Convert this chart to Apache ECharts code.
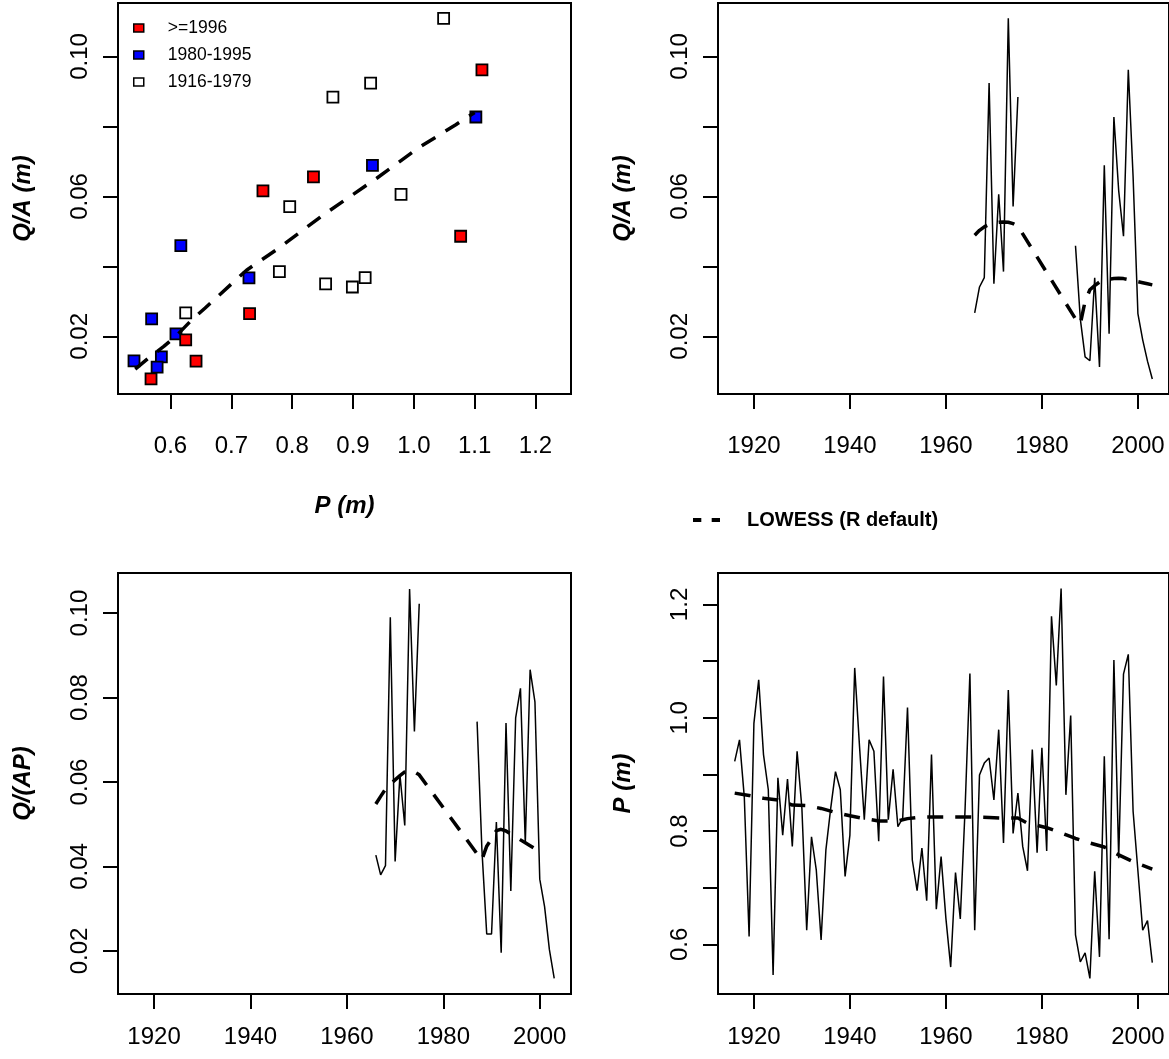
<!DOCTYPE html>
<html><head><meta charset="utf-8">
<script src="https://cdn.jsdelivr.net/npm/echarts@6/dist/echarts.min.js"></script>
<style>html,body{margin:0;padding:0;background:#fff}#c{width:1169px;height:1059px}</style>
</head><body><div id="c"></div>
<script>
// ---------- DATA ----------
const pYears = [1916,1917,1918,1919,1920,1921,1922,1923,1924,1925,
1926,1927,1928,1929,1930,1931,1932,1933,1934,1935,
1936,1937,1938,1939,1940,1941,1942,1943,1944,1945,
1946,1947,1948,1949,1950,1951,1952,1953,1954,1955,
1956,1957,1958,1959,1960,1961,1962,1963,1964,1965,
1966,1967,1968,1969,1970,1971,1972,1973,1974,1975,
1976,1977,1978,1979,1980,1981,1982,1983,1984,1985,
1986,1987,1988,1989,1990,1991,1992,1993,1994,1995,
1996,1997,1998,1999,2000,2001,2002,2003];
const pValues = [0.923,0.961,0.860,0.614,0.990,1.067,0.935,0.873,0.546,0.894,
0.793,0.892,0.773,0.941,0.840,0.625,0.790,0.731,0.608,0.767,
0.840,0.905,0.873,0.720,0.793,1.088,0.950,0.820,0.961,0.941,
0.782,1.073,0.820,0.909,0.808,0.823,1.018,0.749,0.695,0.770,
0.677,0.935,0.662,0.755,0.646,0.560,0.727,0.645,0.840,1.078,
0.625,0.899,0.920,0.929,0.855,0.979,0.779,1.049,0.796,0.867,
0.773,0.730,0.944,0.762,0.947,0.765,1.179,1.057,1.228,0.864,
1.004,0.617,0.569,0.585,0.540,0.729,0.578,0.932,0.609,1.102,
0.752,1.077,1.112,0.835,0.730,0.625,0.642,0.568];

const qYears = [1966,1967,1968,1969,1970,1971,1972,1973,1974,1975,
1976,1977,1978,1979,1980,1981,1982,1983,1984,1985,1986,
1987,1988,1989,1990,1991,1992,1993,1994,1995,
1996,1997,1998,1999,2000,2001,2002,2003];
// Q/A (m); null = no runoff record
const qaValues = [0.0267,0.0341,0.0368,0.0924,0.0350,0.0606,0.0385,0.1109,0.0571,0.0884,
null,null,null,null,null,null,null,null,null,null,null,
0.0459,0.0250,0.0141,0.0130,0.0367,0.0112,0.0689,0.0207,0.0827,
0.0616,0.0486,0.0962,0.0656,0.0265,0.0190,0.0129,0.0078];
// Q/(AP)
const qapValues = [0.0427,0.0380,0.0402,0.0990,0.0412,0.0617,0.0497,0.1057,0.0720,0.1022,
null,null,null,null,null,null,null,null,null,null,null,
0.0743,0.0440,0.0240,0.0240,0.0505,0.0196,0.0740,0.0342,0.0752,
0.0822,0.0455,0.0866,0.0790,0.0370,0.0305,0.0203,0.0135];

// LOWESS fits
const lowessPQ_P  = [0.542,0.567,0.589,0.611,0.635,0.657,0.725,0.778,0.852,0.939,1.007,1.069,1.100];
const lowessPQ_QA = [0.0106,0.0142,0.0171,0.0204,0.0247,0.0281,0.0389,0.0452,0.0548,0.0652,0.0738,0.0805,0.0840];

const lowessQA_years  = [1966,1967,1968,1969,1970,1971,1972,1973,1974,1975,1987,1988,1989,1990,1991,1992,1993,1994,1995,1996,1997,1998,1999,2000,2001,2002,2003];
const lowessQA_values = [0.0489,0.0503,0.0513,0.0520,0.0524,0.0526,0.0527,0.0526,0.0522,0.0515,0.0250,0.0235,0.0300,0.0333,0.0345,0.0355,0.0360,0.0363,0.0365,0.0366,0.0365,0.0362,0.0359,0.0356,0.0353,0.0350,0.0347];

const lowessQAP_years  = [1966,1967,1968,1969,1970,1971,1972,1973,1974,1975,1987,1988,1989,1990,1991,1992,1993,1994,1995,1996,1997,1998,1999,2000];
const lowessQAP_values = [0.0548,0.0566,0.0583,0.0595,0.0605,0.0615,0.0624,0.0628,0.0624,0.0617,0.0430,0.0416,0.0448,0.0465,0.0485,0.0488,0.0484,0.0477,0.0470,0.0463,0.0456,0.0449,0.0442,0.0435];

const lowessP_years  = [1916,1919,1922,1925,1928,1931,1934,1937,1940,1943,1946,1950,1952,1955,1960,1965,1969,1972,1975,1977,1981,1984,1987,1990,1993,1996,1999,2003];
const lowessP_values = [0.867,0.863,0.858,0.855,0.846,0.845,0.840,0.833,0.827,0.822,0.818,0.818,0.822,0.825,0.825,0.825,0.824,0.823,0.823,0.814,0.806,0.797,0.787,0.779,0.772,0.758,0.746,0.733];

const groupNames = ['>=1996','1980-1995','1916-1979'];
const xTicksP = [0.6,0.7,0.8,0.9,1.0,1.1,1.2];
const yearTicks = [1920,1940,1960,1980,2000];
const qaTicks = [0.02,0.04,0.06,0.08,0.10];
const qaLabels = [0.02,0.06,0.10];
const qapTicks = [0.02,0.04,0.06,0.08,0.10];
const pTicks = [0.6,0.7,0.8,0.9,1.0,1.1,1.2];
const pLabels = [0.6,0.8,1.0,1.2];

// ---------- BUILD ----------
const FONT = "'Liberation Sans', Arial, Helvetica, sans-serif";
const pByYear = {}; pYears.forEach((y,i)=>pByYear[y]=pValues[i]);
const scatterGroups = [[],[],[]];
qYears.forEach((y,i)=>{
  if (qaValues[i]==null) return;
  const g = y>=1996 ? 0 : (y>=1980 ? 1 : 2);
  scatterGroups[g].push([pByYear[y], qaValues[i]]);
});
const pair = (xs, ys) => xs.map((x,i)=>[x, ys[i]==null ? '-' : ys[i]]);

function xAx(gi, min, max, ticks, fmt, margin, name) {
  return {
    type:'value', gridIndex:gi, min:min, max:max,
    axisLine:{show:false}, splitLine:{show:false},
    axisTick:{show:true, inside:false, length:15, customValues:ticks, lineStyle:{color:'#000', width:2}},
    axisLabel:{show:true, customValues:ticks, formatter:fmt, margin:margin, hideOverlap:false,
      fontFamily:FONT, fontSize:24, color:'#000'},
    name:name||'', nameLocation:'middle', nameGap:100,
    nameTextStyle:{fontFamily:FONT, fontSize:24, fontWeight:'bold', fontStyle:'italic', color:'#000'}
  };
}
function yAx(gi, min, max, ticks, labels, fmt, name) {
  return {
    type:'value', gridIndex:gi, min:min, max:max,
    axisLine:{show:false}, splitLine:{show:false},
    axisTick:{show:true, inside:false, length:15, customValues:ticks, lineStyle:{color:'#000', width:2}},
    axisLabel:{show:true, customValues:labels, formatter:fmt, margin:26, rotate:90, hideOverlap:false,
      fontFamily:FONT, fontSize:24, color:'#000'},
    name:name, nameLocation:'middle', nameGap:83, nameRotate:90,
    nameTextStyle:{fontFamily:FONT, fontSize:24, fontWeight:'bold', fontStyle:'italic', color:'#000'}
  };
}
const f1 = v => Number(v).toFixed(1);
const f2 = v => Number(v).toFixed(2);
const fy = v => String(Math.round(v));

const gridBase = {show:true, borderColor:'#000', borderWidth:2, backgroundColor:'transparent'};
const lowessStyle = {color:'#000', width:3.5, type:[16,12], cap:'butt'};
const solidStyle = {color:'#000', width:1.5};
const LNAME = 'LOWESS (R default)';

const option = {
  animation:false,
  backgroundColor:'#fff',
  grid:[
    Object.assign({left:118, top:3, width:453, height:391}, gridBase),
    Object.assign({left:718, top:3, width:453, height:391}, gridBase),
    Object.assign({left:118, top:573, width:453, height:421}, gridBase),
    Object.assign({left:718, top:573, width:453, height:421}, gridBase)
  ],
  xAxis:[
    xAx(0, 0.5137, 1.2584, xTicksP, f1, 40, 'P (m)'),
    xAx(1, 1912.52, 2006.48, yearTicks, fy, 40),
    xAx(2, 1912.52, 2006.48, yearTicks, fy, 31),
    xAx(3, 1912.52, 2006.48, yearTicks, fy, 31)
  ],
  yAxis:[
    yAx(0, 0.0035, 0.1153, qaTicks, qaLabels, f2, 'Q/A (m)'),
    yAx(1, 0.0035, 0.1153, qaTicks, qaLabels, f2, 'Q/A (m)'),
    yAx(2, 0.0098, 0.1095, qapTicks, qapTicks, f2, 'Q/(AP)'),
    yAx(3, 0.5125, 1.2555, pTicks, pLabels, f1, 'P (m)')
  ],
  legend:[
    {left:133, top:15, orient:'vertical', padding:0, itemGap:1, itemWidth:10, itemHeight:8, icon:'rect',
     selectedMode:false, data:groupNames,
     itemStyle:{borderColor:'#000', borderWidth:1.5},
     textStyle:{fontFamily:FONT, fontSize:17.5, color:'#000', lineHeight:18, padding:[8,0,0,19]}},
    {left:693, top:509, padding:0, itemWidth:27, itemHeight:5, selectedMode:false,
     data:[{name:LNAME, icon:'path://M0,0H8V4H0Z M18,0H26V4H18Z'}],
     itemStyle:{borderWidth:0, color:'#000'},
     textStyle:{fontFamily:FONT, fontSize:20, fontWeight:'bold', color:'#000', lineHeight:22, padding:[0,0,0,22]}}
  ],
  series:[
    {type:'scatter', name:groupNames[2], xAxisIndex:0, yAxisIndex:0, data:scatterGroups[2], symbol:'rect', symbolSize:11,
     itemStyle:{color:'#ffffff', borderColor:'#000', borderWidth:1.8, opacity:1}, z:3},
    {type:'scatter', name:groupNames[1], xAxisIndex:0, yAxisIndex:0, data:scatterGroups[1], symbol:'rect', symbolSize:11,
     itemStyle:{color:'#0000ff', borderColor:'#000', borderWidth:1.8, opacity:1}, z:3},
    {type:'scatter', name:groupNames[0], xAxisIndex:0, yAxisIndex:0, data:scatterGroups[0], symbol:'rect', symbolSize:11,
     itemStyle:{color:'#ff0000', borderColor:'#000', borderWidth:1.8, opacity:1}, z:3},
    {type:'line', name:LNAME, xAxisIndex:0, yAxisIndex:0, data:pair(lowessPQ_P, lowessPQ_QA), symbol:'none',
     lineStyle:lowessStyle, itemStyle:{color:'#000'}, z:4},

    {type:'line', name:'Q/A', xAxisIndex:1, yAxisIndex:1, data:pair(qYears, qaValues), symbol:'none',
     connectNulls:false, lineStyle:solidStyle, itemStyle:{color:'#000'}, z:3},
    {type:'line', name:LNAME, xAxisIndex:1, yAxisIndex:1, data:pair(lowessQA_years, lowessQA_values), symbol:'none',
     lineStyle:lowessStyle, itemStyle:{color:'#000'}, z:4},

    {type:'line', name:'Q/(AP)', xAxisIndex:2, yAxisIndex:2, data:pair(qYears, qapValues), symbol:'none',
     connectNulls:false, lineStyle:solidStyle, itemStyle:{color:'#000'}, z:3},
    {type:'line', name:LNAME, xAxisIndex:2, yAxisIndex:2, data:pair(lowessQAP_years, lowessQAP_values), symbol:'none',
     lineStyle:lowessStyle, itemStyle:{color:'#000'}, z:4},

    {type:'line', name:'P', xAxisIndex:3, yAxisIndex:3, data:pair(pYears, pValues), symbol:'none',
     lineStyle:solidStyle, itemStyle:{color:'#000'}, z:3},
    {type:'line', name:LNAME, xAxisIndex:3, yAxisIndex:3, data:pair(lowessP_years, lowessP_values), symbol:'none',
     lineStyle:lowessStyle, itemStyle:{color:'#000'}, z:4}
  ]
};
const chart = echarts.init(document.getElementById('c'), null, {renderer:'canvas'});
chart.setOption(option);
</script></body></html>
